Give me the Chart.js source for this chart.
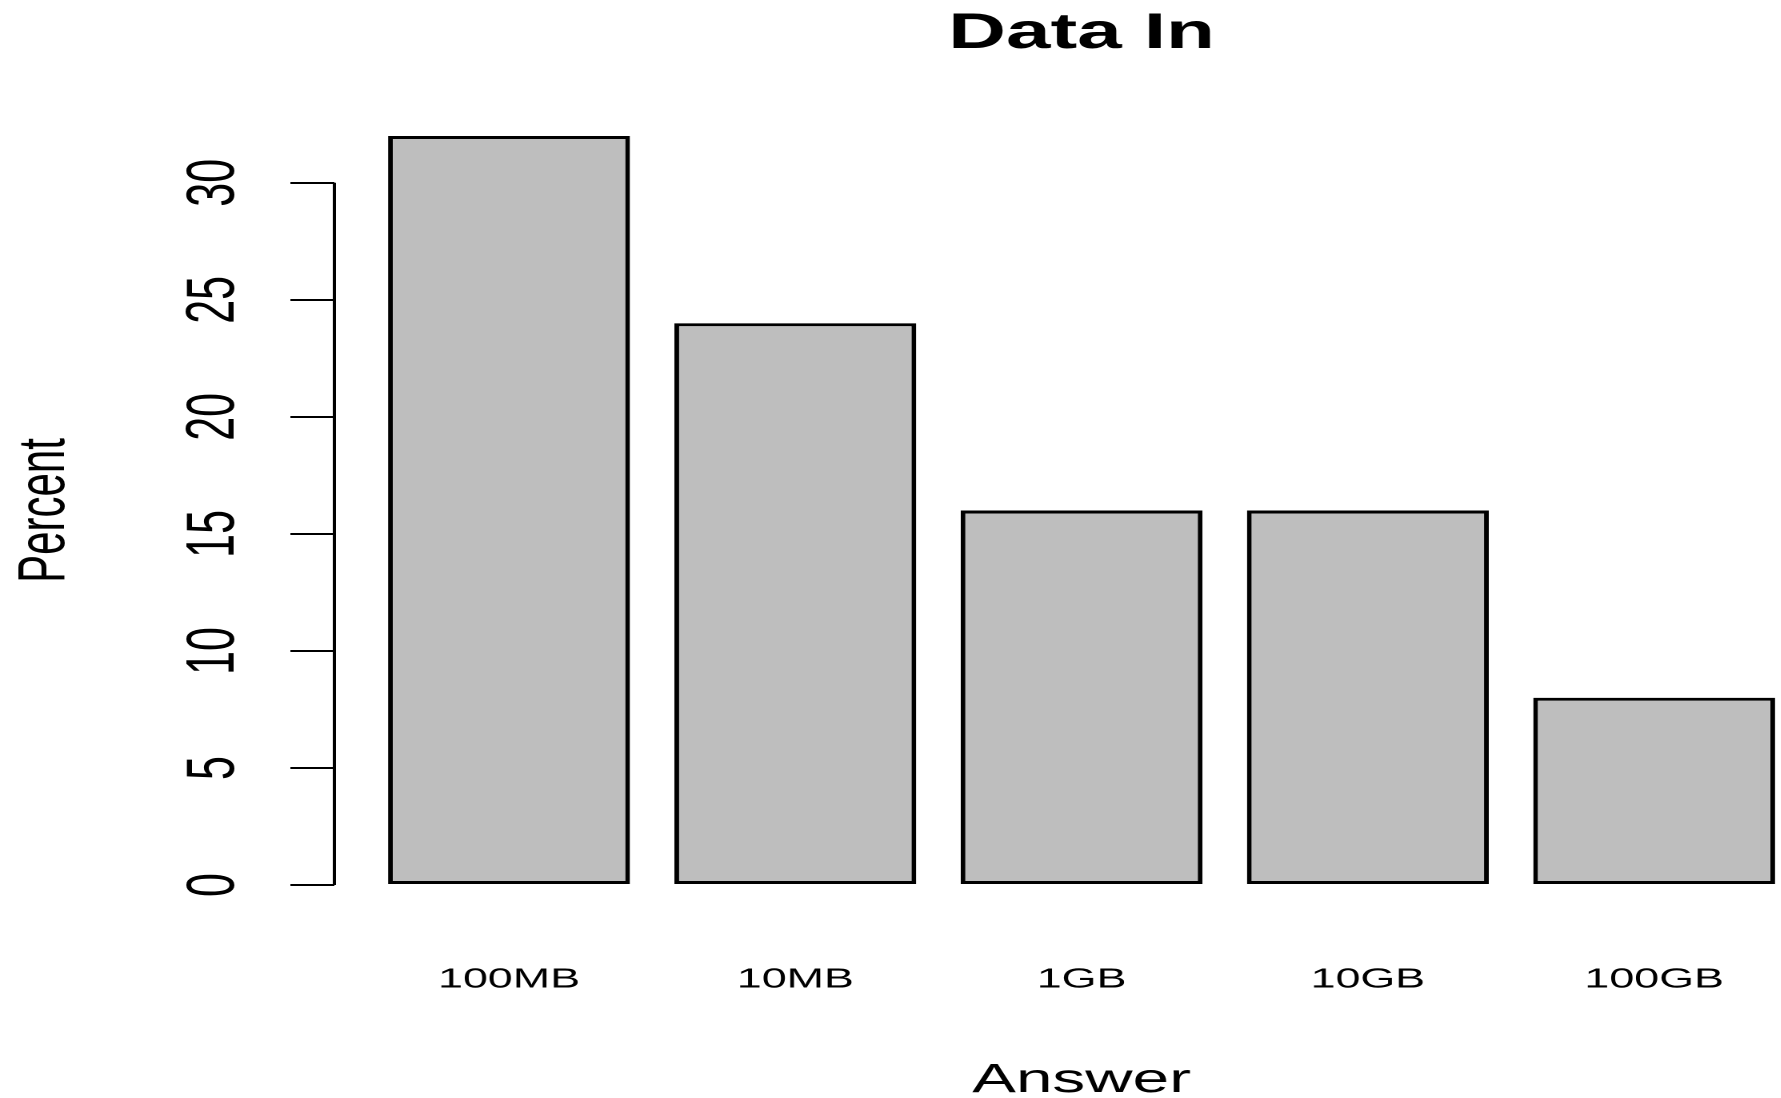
<!DOCTYPE html>
<html>
<head>
<meta charset="utf-8">
<title>Data In</title>
<script src="https://cdn.jsdelivr.net/npm/chart.js@4.4.1/dist/chart.umd.min.js"></script>
<style>
  html, body { margin: 0; padding: 0; overflow: hidden; background: #fff; }
  /* the original plot has its text and marks stretched sideways */
  .wrap { width: 1160px; height: 1098px; transform: scaleX(1.6); transform-origin: 0 0; }
</style>
</head>
<body>
<div class="wrap"><canvas id="chart"></canvas></div>
<script>
const categories = ['100MB', '10MB', '1GB', '10GB', '100GB'];
const percents = [32, 24, 16, 16, 8];
const yTicks = [0, 5, 10, 15, 20, 25, 30];

Chart.defaults.font.family = '"Liberation Sans", Arial, sans-serif';
Chart.defaults.color = '#000';

// R style y axis: the line only runs from the first to the last tick
const axisLine = {
  id: 'axisLine',
  afterDraw(chart) {
    const y = chart.scales.y;
    const ctx = chart.ctx;
    ctx.save();
    ctx.strokeStyle = '#000';
    ctx.lineWidth = 2;
    ctx.beginPath();
    ctx.moveTo(y.right, y.getPixelForValue(yTicks[0]));
    ctx.lineTo(y.right, y.getPixelForValue(yTicks[yTicks.length - 1]));
    ctx.stroke();
    ctx.restore();
  }
};

new Chart(document.getElementById('chart'), {
  type: 'bar',
  data: {
    datasets: [{
      label: 'Percent',
      data: percents.map((v, i) => ({ x: i, y: v })),
      backgroundColor: '#bebebe',
      borderColor: '#000',
      borderWidth: 3,
      borderSkipped: false,
      barPercentage: 0.845,
      categoryPercentage: 1
    }]
  },
  options: {
    responsive: true,
    maintainAspectRatio: false,
    animation: false,
    devicePixelRatio: 2,
    layout: { padding: { left: 0, right: 17, top: 0, bottom: 0 } },
    plugins: {
      legend: { display: false },
      tooltip: { enabled: false },
      title: {
        display: true,
        text: 'Data In',
        fullSize: false,
        font: { size: 50, weight: 'bold', lineHeight: 1.2 },
        padding: { top: 4, bottom: 42 }
      }
    },
    scales: {
      x: {
        type: 'linear',
        min: -0.61,
        max: 4.61,
        offset: false,
        grid: { display: false, drawTicks: false, offset: false },
        border: { display: false },
        afterBuildTicks: (scale) => {
          scale.ticks = categories.map((c, i) => ({ value: i }));
        },
        afterFit: (scale) => { scale.height = 183; },
        ticks: {
          autoSkip: false,
          maxRotation: 0,
          padding: 48,
          font: { size: 28 },
          callback: (value) => categories[value]
        },
        title: {
          display: true,
          text: 'Answer',
          font: { size: 41, lineHeight: 0.85 },
          padding: { top: 0, bottom: 0 }
        }
      },
      y: {
        min: -1.28,
        max: 33.28,
        afterBuildTicks: (scale) => {
          scale.ticks = yTicks.map(v => ({ value: v }));
        },
        afterFit: (scale) => { scale.width = 209; },
        grid: {
          drawOnChartArea: false,
          drawTicks: true,
          tickLength: 27.5,
          color: '#000',
          lineWidth: 2
        },
        border: { display: false },
        ticks: {
          autoSkip: false,
          minRotation: 90,
          maxRotation: 90,
          crossAlign: 'center',
          padding: 23.5,
          font: { size: 43 }
        },
        title: {
          display: true,
          text: 'Percent',
          font: { size: 42, lineHeight: 1 },
          padding: { top: 7.6, bottom: 0 }
        }
      }
    }
  },
  plugins: [axisLine]
});
</script>
</body>
</html>
